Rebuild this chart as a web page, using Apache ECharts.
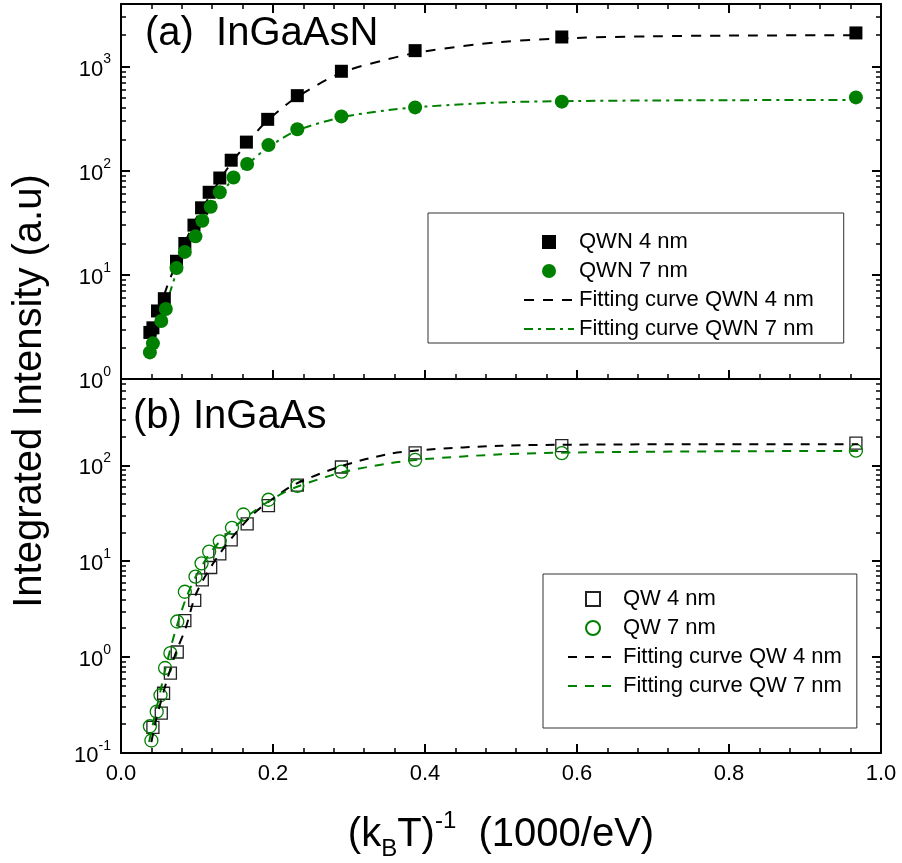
<!DOCTYPE html>
<html>
<head>
<meta charset="utf-8">
<script src="https://cdn.jsdelivr.net/npm/echarts@6/dist/echarts.min.js"></script>
<style>
html, body { margin: 0; padding: 0; background: #fff; }
#chart { width: 902px; height: 863px; }
</style>
</head>
<body>
<div id="chart"></div>
<script>
// (a) InGaAsN
var qwn4X = [0.967, 0.580, 0.387, 0.290, 0.232, 0.193, 0.165, 0.145, 0.130, 0.116, 0.106, 0.096, 0.084, 0.073, 0.057, 0.048, 0.042, 0.038];
var qwn4Y = [2100, 1920, 1420, 900, 525, 311, 188, 126, 85, 62, 44, 30, 20, 13.5, 5.9, 4.5, 3.1, 2.8];
var qwn7X = [0.967, 0.580, 0.387, 0.290, 0.232, 0.194, 0.166, 0.148, 0.130, 0.118, 0.107, 0.098, 0.084, 0.073, 0.059, 0.053, 0.042, 0.038];
var qwn7Y = [505, 460, 405, 332, 250, 176, 116, 86, 62, 45, 33, 23.4, 16.6, 11.6, 4.7, 3.6, 2.2, 1.8];
var fitQwn4X = [0.038, 0.048, 0.06, 0.072, 0.085, 0.1, 0.12, 0.14, 0.165, 0.19, 0.23, 0.29, 0.35, 0.4, 0.5, 0.6, 0.7, 0.8, 0.97];
var fitQwn4Y = [1.9, 4.0, 7.5, 12.5, 21, 36, 62, 105, 180, 290, 500, 870, 1170, 1400, 1720, 1880, 1950, 1980, 2000];
var fitQwn7X = [0.038, 0.045, 0.055, 0.065, 0.075, 0.09, 0.105, 0.12, 0.14, 0.165, 0.19, 0.23, 0.29, 0.35, 0.4, 0.5, 0.6, 0.7, 0.8, 0.97];
var fitQwn7Y = [1.6, 2.5, 4.3, 7.0, 11.5, 19, 30, 46, 72, 112, 160, 240, 325, 380, 412, 452, 466, 472, 475, 478];

// (b) InGaAs
var qw4X = [0.967, 0.580, 0.387, 0.290, 0.232, 0.194, 0.166, 0.145, 0.130, 0.118, 0.107, 0.097, 0.084, 0.074, 0.065, 0.056, 0.053, 0.042];
var qw4Y = [170, 160, 135, 96, 62, 38, 24.5, 16.7, 11.9, 8.6, 6.4, 3.9, 2.4, 1.13, 0.68, 0.42, 0.26, 0.185];
var qw7X = [0.967, 0.580, 0.387, 0.290, 0.232, 0.194, 0.161, 0.146, 0.130, 0.116, 0.106, 0.098, 0.084, 0.074, 0.065, 0.058, 0.052, 0.047, 0.038, 0.040];
var qw7Y = [142, 134, 114, 86, 61, 43.7, 30.7, 22.3, 16.1, 12.6, 9.5, 6.9, 4.8, 2.35, 1.10, 0.77, 0.40, 0.27, 0.19, 0.135];
var fitQw4X = [0.040, 0.046, 0.06, 0.072, 0.085, 0.1, 0.13, 0.17, 0.2, 0.23, 0.29, 0.35, 0.4, 0.5, 0.6, 0.8, 0.97];
var fitQw4Y = [0.13, 0.22, 0.56, 1.1, 2.0, 4.8, 12, 29, 45, 64, 98, 130, 145, 160, 164, 166, 166];
var fitQw7X = [0.037, 0.042, 0.05, 0.06, 0.07, 0.085, 0.1, 0.12, 0.145, 0.17, 0.2, 0.23, 0.29, 0.35, 0.4, 0.5, 0.6, 0.8, 0.97];
var fitQw7Y = [0.13, 0.2, 0.38, 0.85, 1.7, 4.0, 7.3, 13, 21, 31, 45, 59, 84, 104, 116, 130, 136, 140, 141];

// axis ticks
var topDecades = [1, 10, 100, 1000];
var bottomDecades = [0.1, 1, 10, 100];
var topMax = 3981, bottomMax = 794;

var FONT = "'Liberation Sans', Arial, sans-serif";
var GREEN = '#008000';

function pairs(xs, ys) {
    return xs.map(function (x, i) { return [x, ys[i]]; });
}
function minorTicks(decades, max) {
    var out = [];
    decades.forEach(function (d) {
        for (var k = 2; k <= 9; k++) {
            if (k * d <= max) out.push(k * d);
        }
    });
    return out;
}
function powLabel(v) {
    return '{b|10}{s|' + Math.round(Math.log10(v)) + '}';
}

function xAxisDef(grid, pos, ticks, labels) {
    return {
        type: 'value', gridIndex: grid, position: pos, min: 0, max: 1, interval: 0.2,
        axisLine: { show: true, lineStyle: { color: '#000', width: 2 } },
        axisTick: { show: ticks, inside: true, length: 9, lineStyle: { color: '#000', width: 2 } },
        minorTick: { show: ticks, splitNumber: 5, length: 5, lineStyle: { color: '#000', width: 1.5 } },
        axisLabel: {
            show: labels, fontSize: 22, fontFamily: FONT, color: '#000', margin: 10,
            formatter: function (v) { return v.toFixed(1); }
        },
        splitLine: { show: false }
    };
}
function yAxisDef(grid, pos, min, max, tickVals, len, line, labels) {
    return {
        type: 'log', gridIndex: grid, position: pos, min: min, max: max,
        axisLine: { show: line, lineStyle: { color: '#000', width: 2 } },
        axisTick: { show: true, inside: true, length: len, customValues: tickVals,
            lineStyle: { color: '#000', width: len > 6 ? 2 : 1.5 } },
        axisLabel: {
            show: labels, customValues: tickVals, margin: 10, formatter: powLabel,
            rich: {
                b: { fontSize: 22, fontFamily: FONT, color: '#000', lineHeight: 28, verticalAlign: 'bottom' },
                s: { fontSize: 14, fontFamily: FONT, color: '#000', lineHeight: 14, verticalAlign: 'top' }
            }
        },
        splitLine: { show: false }
    };
}

var xb = xAxisDef(1, 'bottom', true, true);
xb.name = '(k{sub|B}T){sup|-1}  (1000/eV)';
xb.nameLocation = 'middle';
xb.nameGap = 56;
xb.nameTextStyle = {
    fontSize: 40, fontFamily: FONT, color: '#000', lineHeight: 52,
    rich: {
        sub: { fontSize: 24, fontFamily: FONT, color: '#000', lineHeight: 20, verticalAlign: 'bottom' },
        sup: { fontSize: 24, fontFamily: FONT, color: '#000', lineHeight: 24, verticalAlign: 'top' }
    }
};

var chart = echarts.init(document.getElementById('chart'));

var baseOption = {
    backgroundColor: '#fff',
    grid: [
        { left: 121, right: 21, top: 4, height: 375 },
        { left: 121, right: 21, top: 379, height: 374 }
    ],
    xAxis: [
        xAxisDef(0, 'bottom', true, false),
        xAxisDef(0, 'top', true, false),
        xb,
        xAxisDef(1, 'top', false, false)
    ],
    yAxis: [
        yAxisDef(0, 'left', 1, topMax, topDecades, 9, true, true),
        yAxisDef(0, 'left', 1, topMax, minorTicks(topDecades, topMax), 5, false, false),
        yAxisDef(0, 'right', 1, topMax, topDecades, 9, true, false),
        yAxisDef(0, 'right', 1, topMax, minorTicks(topDecades, topMax), 5, false, false),
        yAxisDef(1, 'left', 0.1, bottomMax, bottomDecades, 9, true, true),
        yAxisDef(1, 'left', 0.1, bottomMax, minorTicks(bottomDecades, bottomMax), 5, false, false),
        yAxisDef(1, 'right', 0.1, bottomMax, bottomDecades, 9, true, false),
        yAxisDef(1, 'right', 0.1, bottomMax, minorTicks(bottomDecades, bottomMax), 5, false, false)
    ],
    series: [
        {
            name: 'Fitting curve QWN 4 nm', type: 'line', xAxisIndex: 0, yAxisIndex: 0,
            data: pairs(fitQwn4X, fitQwn4Y), smooth: 0.3, symbol: 'none',
            itemStyle: { color: '#000' },
            lineStyle: { color: '#000', width: 2, type: [10, 9] }, z: 2
        },
        {
            name: 'Fitting curve QWN 7 nm', type: 'line', xAxisIndex: 0, yAxisIndex: 0,
            data: pairs(fitQwn7X, fitQwn7Y), smooth: 0.3, symbol: 'none',
            itemStyle: { color: GREEN },
            lineStyle: { color: GREEN, width: 2, type: [9, 5, 3, 5] }, z: 2
        },
        {
            name: 'QWN 4 nm', type: 'scatter', xAxisIndex: 0, yAxisIndex: 0,
            data: pairs(qwn4X, qwn4Y), symbol: 'path://M0,0H10V10H0Z', symbolKeepAspect: true, symbolSize: 13,
            itemStyle: { color: '#000', opacity: 1 }, z: 3
        },
        {
            name: 'QWN 7 nm', type: 'scatter', xAxisIndex: 0, yAxisIndex: 0,
            data: pairs(qwn7X, qwn7Y), symbol: 'circle', symbolSize: 14,
            itemStyle: { color: GREEN, opacity: 1 }, z: 3
        },
        {
            name: 'QW 4 nm', type: 'scatter', xAxisIndex: 2, yAxisIndex: 4,
            data: pairs(qw4X, qw4Y), symbol: 'path://M0,0H10V10H0Z', symbolKeepAspect: true, symbolSize: 12,
            itemStyle: { color: 'rgba(255,255,255,0)', borderColor: '#222', borderWidth: 1.3, opacity: 1 }, z: 3
        },
        {
            name: 'QW 7 nm', type: 'scatter', xAxisIndex: 2, yAxisIndex: 4,
            data: pairs(qw7X, qw7Y), symbol: 'circle', symbolSize: 13,
            itemStyle: { color: 'rgba(255,255,255,0)', borderColor: GREEN, borderWidth: 1.3, opacity: 1 }, z: 3
        },
        {
            name: 'Fitting curve QW 4 nm', type: 'line', xAxisIndex: 2, yAxisIndex: 4,
            data: pairs(fitQw4X, fitQw4Y), smooth: 0.3, symbol: 'none',
            itemStyle: { color: '#000' },
            lineStyle: { color: '#000', width: 2, type: [9, 8] }, z: 4
        },
        {
            name: 'Fitting curve QW 7 nm', type: 'line', xAxisIndex: 2, yAxisIndex: 4,
            data: pairs(fitQw7X, fitQw7Y), smooth: 0.3, symbol: 'none',
            itemStyle: { color: GREEN },
            lineStyle: { color: GREEN, width: 2, type: [9, 8] }, z: 4
        }
    ]
};

var legendOption = {
    legend: [
        {
            orient: 'vertical', left: 428, top: 213, padding: [18, 30, 3, 95],
            itemWidth: 50, itemHeight: 14, itemGap: 7, selectedMode: false,
            borderColor: '#333', borderWidth: 1,
            textStyle: { fontSize: 22, lineHeight: 20, fontFamily: FONT, color: '#000' },
            data: [
                { name: 'QWN 4 nm' },
                { name: 'QWN 7 nm' },
                { name: 'Fitting curve QWN 4 nm', itemStyle: { opacity: 0 } },
                { name: 'Fitting curve QWN 7 nm', itemStyle: { opacity: 0 } }
            ]
        },
        {
            orient: 'vertical', left: 543, top: 574, padding: [14, 15, 31, 24],
            itemWidth: 50, itemHeight: 14, itemGap: 7, selectedMode: false,
            borderColor: '#333', borderWidth: 1,
            textStyle: { fontSize: 22, lineHeight: 20, fontFamily: FONT, color: '#000' },
            data: [
                { name: 'QW 4 nm' },
                { name: 'QW 7 nm' },
                { name: 'Fitting curve QW 4 nm', itemStyle: { opacity: 0 } },
                { name: 'Fitting curve QW 7 nm', itemStyle: { opacity: 0 } }
            ]
        }
    ]
};

var graphicOption = {
    graphic: [
        { type: 'text', x: 30, y: 391, rotation: Math.PI / 2,
          style: { text: 'Integrated Intensity (a.u)', fontSize: 40, fontFamily: FONT, fill: '#000', align: 'center', verticalAlign: 'middle' } },
        { type: 'text', left: 145, top: 14,
          style: { text: '(a)  InGaAsN', fontSize: 40, fontFamily: FONT, fill: '#000' } },
        { type: 'text', left: 133, top: 397,
          style: { text: '(b) InGaAs', fontSize: 40, fontFamily: FONT, fill: '#000' } }
    ]
};

function stage(name, opt) {
    try {
        chart.setOption(opt);
    } catch (e) {
        setTimeout(function () { throw new Error(name + ': ' + e.message); }, 0);
    }
}
stage('base', baseOption);
stage('legend', legendOption);
stage('graphic', graphicOption);
window.addEventListener('resize', chart.resize);
</script>
</body>
</html>
